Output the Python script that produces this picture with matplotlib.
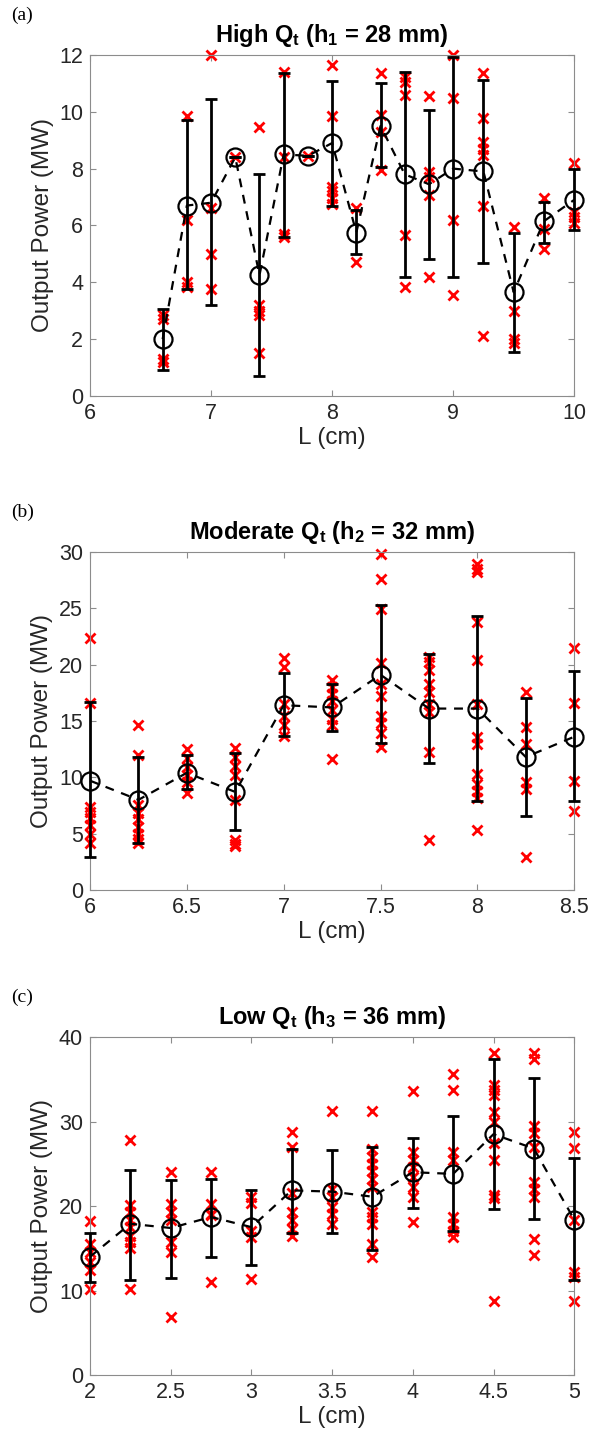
import matplotlib
matplotlib.use('Agg')
import matplotlib.pyplot as plt
import numpy as np

plt.rcParams['font.family'] = ['Liberation Sans', 'DejaVu Sans']
plt.rcParams['mathtext.fontset'] = 'custom'
plt.rcParams['mathtext.rm'] = 'Liberation Sans'
plt.rcParams['mathtext.bf'] = 'Liberation Sans:bold'

# ---- (a) high flow rate, h1 = 28 mm ----
L_a = [6.6, 6.8, 7.0, 7.2, 7.4, 7.6, 7.8, 8.0, 8.2, 8.4, 8.6, 8.8, 9.0, 9.25, 9.5, 9.75, 10.0]
mean_a = [2.0, 6.7, 6.8, 8.4, 4.25, 8.5, 8.45, 8.9, 5.75, 9.5, 7.8, 7.45, 8.0, 7.9, 3.65, 6.15, 6.9]
lo_a = [0.9, 3.75, 3.2, 8.4, 0.7, 5.6, 8.45, 6.7, 5.0, 8.06, 4.2, 4.81, 4.18, 4.68, 1.55, 5.39, 5.85]
hi_a = [3.05, 9.7, 10.45, 8.4, 7.8, 11.35, 8.45, 11.1, 6.55, 11.0, 11.41, 10.08, 11.92, 11.12, 5.74, 6.82, 8.0]
runs_a = [
    [2.85, 2.7, 1.3, 1.2],
    [9.85, 6.2, 4.0, 3.85],
    [12.0, 6.6, 5.0, 3.75],
    [8.4],
    [9.45, 3.2, 3.0, 2.85, 1.5],
    [11.4, 8.4, 5.7, 5.6],
    [8.45],
    [11.65, 9.85, 7.35, 7.2, 6.95, 6.75],
    [6.6, 4.7],
    [11.35, 9.9, 9.3, 7.95],
    [11.24, 11.06, 10.59, 5.65, 3.82],
    [10.55, 7.88, 7.7, 7.06, 4.2],
    [12.0, 10.47, 6.2, 3.56],
    [11.35, 9.79, 8.94, 8.7, 8.47, 6.7, 2.12],
    [5.96, 3.0, 2.0, 1.88],
    [6.98, 5.88, 5.18],
    [8.2, 6.47, 6.29, 6.08],
]

# ---- (b) moderate flow rate, h2 = 32 mm ----
L_b = [6.0, 6.25, 6.5, 6.75, 7.0, 7.25, 7.5, 7.75, 8.0, 8.25, 8.5]
mean_b = [9.7, 8.0, 10.4, 8.7, 16.4, 16.2, 19.1, 16.1, 16.1, 11.8, 13.6]
lo_b = [2.9, 4.2, 9.0, 5.3, 13.7, 14.1, 13.05, 11.27, 7.87, 6.54, 7.9]
hi_b = [16.7, 11.8, 12.0, 12.2, 19.3, 18.3, 25.27, 20.98, 24.3, 17.0, 19.4]
runs_b = [
    [22.4, 16.6, 7.4, 6.9, 6.4, 5.8, 5.0, 4.2],
    [14.6, 12.0, 7.5, 6.8, 6.3, 5.6, 5.0, 4.5, 4.2],
    [12.5, 11.7, 10.9, 10.2, 9.6, 8.6],
    [12.6, 11.8, 11.0, 10.2, 8.0, 4.4, 4.1, 3.9],
    [20.6, 19.8, 16.5, 15.4, 14.6, 13.7],
    [18.6, 18.0, 17.4, 16.8, 16.0, 15.2, 14.6, 11.6],
    [29.8, 27.6, 24.9, 20.1, 18.3, 17.2, 15.4, 14.8, 13.9, 12.7],
    [20.7, 20.2, 19.5, 18.3, 17.6, 16.5, 15.8, 12.25, 4.4],
    [28.97, 28.5, 28.2, 23.8, 20.4, 16.5, 13.6, 13.0, 10.3, 9.4, 8.8, 8.2, 5.3],
    [17.6, 14.5, 13.0, 9.6, 9.0, 2.9],
    [21.5, 16.6, 9.7, 7.0],
]

# ---- (c) low flow rate, h3 = 36 mm ----
L_c = [2.0, 2.25, 2.5, 2.75, 3.0, 3.25, 3.5, 3.75, 4.0, 4.25, 4.5, 4.75, 5.0]
mean_c = [14.0, 17.9, 17.4, 18.7, 17.5, 21.85, 21.7, 21.1, 24.0, 23.8, 28.5, 26.8, 18.4]
lo_c = [11.0, 11.3, 11.5, 14.0, 13.0, 16.8, 16.8, 14.8, 19.8, 17.0, 19.7, 18.5, 11.2]
hi_c = [16.8, 24.3, 23.1, 23.2, 21.9, 26.7, 26.6, 27.0, 28.1, 30.7, 37.4, 35.1, 25.7]
runs_c = [
    [18.2, 15.5, 14.6, 13.4, 12.4, 10.2],
    [27.8, 20.1, 19.3, 18.3, 17.5, 16.5, 15.7, 15.0, 10.2],
    [24.0, 20.2, 19.3, 18.3, 15.7, 14.6, 6.9],
    [24.0, 20.2, 19.1, 18.9, 11.0],
    [21.1, 20.3, 17.1, 16.3, 11.4],
    [28.8, 27.0, 21.5, 19.3, 18.3, 17.3, 16.5],
    [31.3, 22.0, 21.1, 19.9, 19.1, 17.9],
    [31.3, 26.8, 25.8, 25.0, 24.2, 23.2, 22.2, 19.3, 18.7, 17.9, 15.5, 14.0],
    [33.6, 26.4, 25.4, 24.6, 23.4, 22.2, 21.1, 18.1],
    [35.6, 33.7, 26.4, 25.4, 18.7, 17.9, 17.1, 16.3],
    [38.1, 34.3, 33.7, 33.1, 31.1, 29.9, 27.4, 25.4, 21.3, 20.9, 8.8],
    [38.1, 37.4, 29.5, 28.6, 27.0, 22.8, 22.0, 21.1, 16.1, 14.2],
    [28.8, 26.9, 18.3, 12.2, 11.6, 8.8],
]

panels = [
    dict(L=L_a, mean=mean_a, lo=lo_a, hi=hi_a, runs=runs_a, tag='(a)',
         title=r'High $\mathbf{Q_t}$ ($\mathbf{h_1}$ = 28 mm)',
         xlim=(6, 10), xticks=np.arange(6, 10.01, 1), ylim=(0, 12), yticks=np.arange(0, 12.1, 2),
         rect=[0.1508, 0.7277, 0.811, 0.2345]),
    dict(L=L_b, mean=mean_b, lo=lo_b, hi=hi_b, runs=runs_b, tag='(b)',
         title=r'Moderate $\mathbf{Q_t}$ ($\mathbf{h_2}$ = 32 mm)',
         xlim=(6, 8.5), xticks=np.arange(6, 8.51, 0.5), ylim=(0, 30), yticks=np.arange(0, 30.1, 5),
         rect=[0.1508, 0.3879, 0.811, 0.2325]),
    dict(L=L_c, mean=mean_c, lo=lo_c, hi=hi_c, runs=runs_c, tag='(c)',
         title=r'Low $\mathbf{Q_t}$ ($\mathbf{h_3}$ = 36 mm)',
         xlim=(2, 5), xticks=np.arange(2, 5.01, 0.5), ylim=(0, 40), yticks=np.arange(0, 40.1, 10),
         rect=[0.1508, 0.0543, 0.811, 0.2325]),
]

fig = plt.figure(figsize=(5.97, 14.54), dpi=100)
txt = '#262626'
spine = '#8c8c8c'

for p in panels:
    ax = fig.add_axes(p['rect'])
    L = np.array(p['L'])
    m = np.array(p['mean'])
    yerr = [m - np.array(p['lo']), np.array(p['hi']) - m]

    # individual runs
    for x, ys in zip(L, p['runs']):
        ax.plot([x] * len(ys), ys, 'x', color='red', ms=6.5, mew=2, clip_on=False, zorder=2)

    ax.errorbar(L, m, yerr=yerr, fmt='none', ecolor='black', elinewidth=2,
                capsize=4, capthick=2, clip_on=False, zorder=3)
    ax.plot(L, m, '--', color='black', lw=1.6, dashes=(4, 3.5), clip_on=False, zorder=4)
    ax.plot(L, m, 'o', mfc='none', mec='black', ms=13, mew=1.6, clip_on=False, zorder=5)

    ax.set_xlim(*p['xlim'])
    ax.set_ylim(*p['ylim'])
    ax.set_xticks(p['xticks'])
    ax.set_xticklabels(['{:g}'.format(v) for v in p['xticks']])
    ax.set_yticks(p['yticks'])
    ax.tick_params(direction='in', top=True, right=True, length=4, width=0.8,
                   color=spine, labelcolor=txt, labelsize=15.5, pad=5)
    for s in ax.spines.values():
        s.set_color(spine)
        s.set_linewidth(0.8)

    ax.set_xlabel('L (cm)', fontsize=17.5, color=txt, labelpad=2)
    ax.set_ylabel('Output Power (MW)', fontsize=17.5, color=txt, labelpad=4)
    ax.set_title(p['title'], fontsize=17, fontweight='bold', color='black', pad=9)

    # panel tag in the top-left corner
    pos = ax.get_position()
    fig.text(0.018, pos.y1 + 0.0275, p['tag'], fontsize=14,
             family=['Liberation Serif', 'DejaVu Serif'], ha='left', va='center')

fig.savefig('out.png', dpi=100)
